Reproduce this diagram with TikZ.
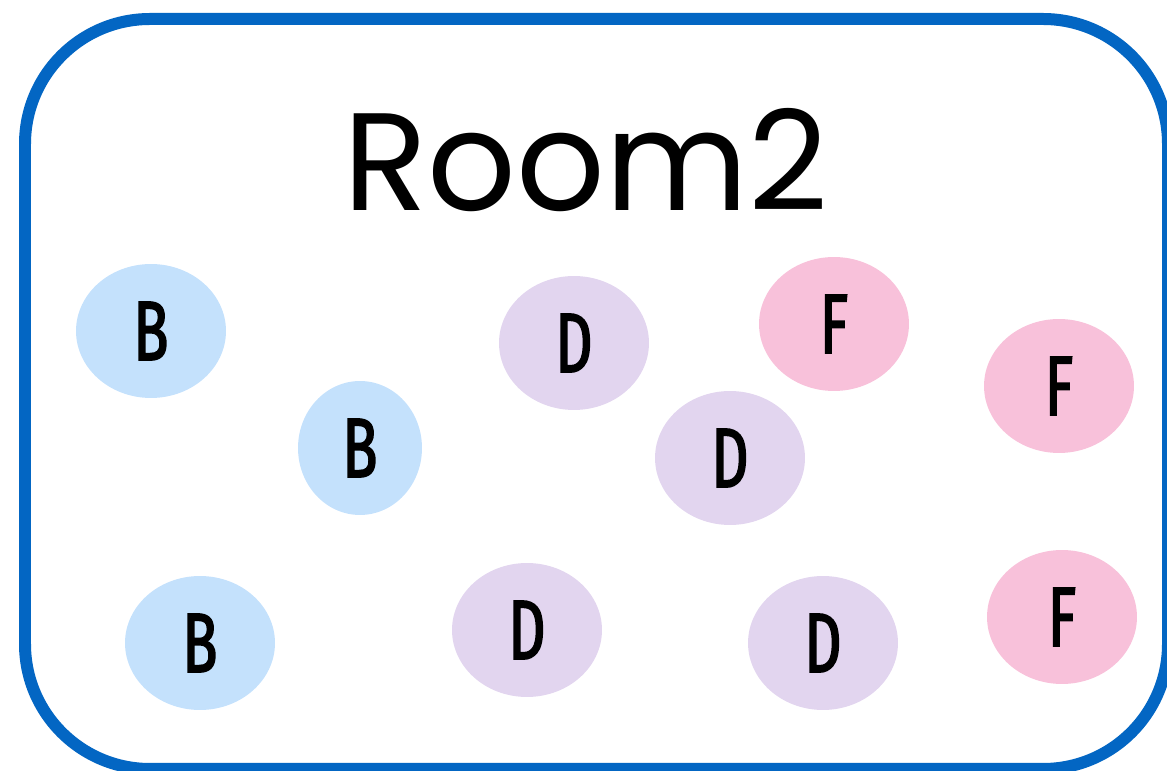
\documentclass[tikz,border=0pt]{standalone}
\usepackage{fontspec}
\usetikzlibrary{shapes.geometric}
\newfontfamily\roomfont{Poppins}
\newfontfamily\itemfont[FakeStretch=0.68, FakeBold=2]{Fira Sans}
\definecolor{roomblue}{HTML}{0366C3}
\definecolor{bfill}{HTML}{C4E1FC}
\definecolor{dfill}{HTML}{E2D5EF}
\definecolor{ffill}{HTML}{F8C1DA}
\begin{document}
\begin{tikzpicture}[x=0.02cm, y=0.02cm,
    item/.style={ellipse, minimum width=3cm, minimum height=2.68cm,
      inner sep=0pt, font=\itemfont\fontsize{48}{48}\selectfont},
    bitem/.style={item, fill=bfill},
    ditem/.style={item, fill=dfill},
    fitem/.style={item, fill=ffill},
    roomlbl/.style={font=\roomfont\fontsize{79}{79}\selectfont, inner sep=0pt},
  ]
    \useasboundingbox (0,0) rectangle (1167,771);

    % room outline
    \draw[roomblue, line width=0.24cm, rounded corners=2.5cm]
      (25,2) rectangle (1168,752);
    \node[roomlbl] (title) at (586,611) {Room2};

    % B items
    \node[bitem] (b1) at (151,440) {B};
    \node[bitem, minimum width=2.48cm] (b2) at (360,323) {B};
    \node[bitem] (b3) at (200,128) {B};

    % D items
    \node[ditem] (d1) at (574,428) {D};
    \node[ditem] (d2) at (730,313) {D};
    \node[ditem] (d3) at (527,141) {D};
    \node[ditem] (d4) at (823,128) {D};

    % F items
    \node[fitem] (f1) at (834,447) {F};
    \node[fitem] (f2) at (1059,385) {F};
    \node[fitem] (f3) at (1062,154) {F};
\end{tikzpicture}
\end{document}
